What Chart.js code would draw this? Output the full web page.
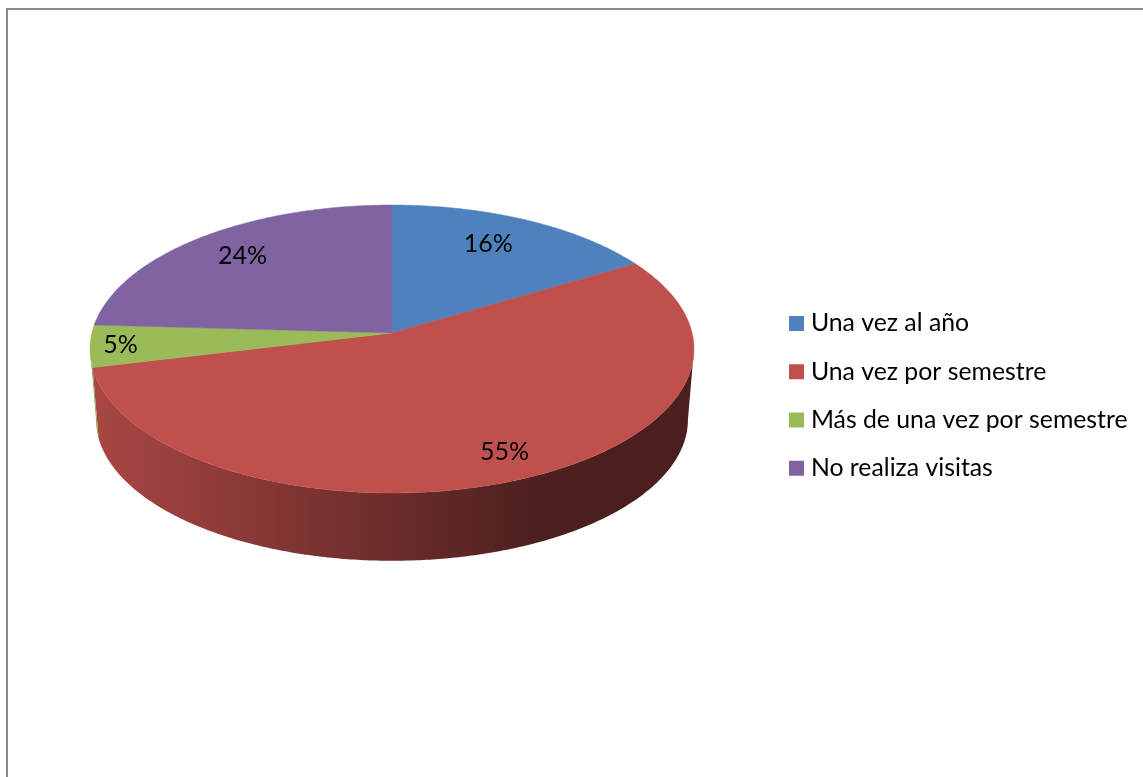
<!DOCTYPE html>
<html lang="es">
<head>
<meta charset="utf-8">
<title>Frecuencia de visitas</title>
<style>
html,body{margin:0;padding:0;background:#fff;overflow:hidden}
canvas{display:block}
</style>
<script src="https://cdn.jsdelivr.net/npm/chart.js@4"></script>
</head>
<body>
<canvas id="c" width="1143" height="777"></canvas>
<script>
const categories = ['Una vez al año', 'Una vez por semestre', 'Más de una vez por semestre', 'No realiza visitas'];
const values = [16.4, 54.8, 4.7, 24.1];
const colors = ['#4f81bd', '#c0504d', '#9bbb59', '#8064a2'];
const labelRadius = [0.755, 0.84, 0.90, 0.785];
const labelAlong = [0.46, 0.491, 0.5, 0.51];

const FONT = 'Lato, Carlito, Calibri, sans-serif';
const view = { cx: 392, cy: 333, A: 300.1, B: 142.2, k: 1 / 9, bottomScale: 0.98, bottomCy: 404 };
const wallFrom = Math.acos(-view.k), wallTo = 2 * Math.PI - wallFrom;

// Perspective projection of a point of the pie's disc; theta runs clockwise from 12 o'clock.
function project(theta, r) {
  const u = r * Math.sin(theta), v = r * Math.cos(theta), w = 1 + view.k * v;
  return { x: view.cx + view.A * u / w, y: view.cy - view.B * v / w };
}
function toBottom(p) {
  return { x: view.cx + view.bottomScale * (p.x - view.cx), y: view.bottomCy + view.bottomScale * (p.y - view.cy) };
}
function shade(hex, f) {
  const n = parseInt(hex.slice(1), 16);
  return `rgb(${Math.round((n >> 16) * f)},${Math.round(((n >> 8) & 255) * f)},${Math.round((n & 255) * f)})`;
}
function arcPoints(a, b) {
  const n = Math.max(2, Math.ceil((b - a) / 0.01)), pts = [];
  for (let i = 0; i <= n; i++) pts.push(project(a + (b - a) * i / n, 1));
  return pts;
}

const pie3d = {
  id: 'pie3d',
  beforeDraw(chart) {
    const ctx = chart.ctx;
    ctx.save();
    ctx.fillStyle = '#ffffff';
    ctx.fillRect(0, 0, chart.width, chart.height);
    ctx.fillStyle = '#8a8a8a';
    ctx.fillRect(6, 8, chart.width - 6, 2);
    ctx.fillRect(6, 8, 2, chart.height - 8);
    ctx.restore();
  },
  afterLayout(chart) {
    const lg = chart.legend;
    const pad = lg.options.labels.padding;
    lg.left = 794.5 - pad;
    lg.right = chart.width;
    lg.top = 311 - pad;
    lg.bottom = chart.height;
  },
  beforeDatasetDraw(chart, args) {
    const ctx = chart.ctx, arcs = args.meta.data;
    const ranges = arcs.map(el => {
      const p = el.getProps(['startAngle', 'endAngle'], true);
      return [p.startAngle + Math.PI / 2, p.endAngle + Math.PI / 2];
    });
    ctx.save();
    // outer wall
    ranges.forEach(([s, e], i) => {
      const a = Math.max(s, wallFrom), b = Math.min(e, wallTo);
      if (b <= a) return;
      const top = arcPoints(a, b), bot = top.map(toBottom).reverse();
      const g = ctx.createLinearGradient(97, 0, 550, 0);
      g.addColorStop(0, shade(colors[i], 0.875));
      g.addColorStop(1, shade(colors[i], 0.385));
      ctx.beginPath();
      top.concat(bot).forEach((p, j) => j ? ctx.lineTo(p.x, p.y) : ctx.moveTo(p.x, p.y));
      ctx.closePath();
      ctx.fillStyle = g;
      ctx.fill();
    });
    // top surface
    ranges.forEach(([s, e], i) => {
      ctx.beginPath();
      ctx.moveTo(view.cx, view.cy);
      arcPoints(s, e).forEach(p => ctx.lineTo(p.x, p.y));
      ctx.closePath();
      ctx.fillStyle = colors[i];
      ctx.strokeStyle = colors[i];
      ctx.lineWidth = 0.5;
      ctx.fill();
      ctx.stroke();
    });
    // value labels
    ctx.fillStyle = '#000000';
    ctx.font = '25px ' + FONT;
    ctx.textAlign = 'center';
    ctx.textBaseline = 'middle';
    ranges.forEach(([s, e], i) => {
      const p = project(s + (e - s) * labelAlong[i], labelRadius[i]);
      ctx.fillText(Math.round(values[i]) + '%', p.x, p.y);
    });
    ctx.restore();
    return false;
  }
};

new Chart(document.getElementById('c'), {
  type: 'pie',
  data: {
    labels: categories,
    datasets: [{ data: values, backgroundColor: colors, borderWidth: 0 }]
  },
  options: {
    responsive: false,
    animation: false,
    plugins: {
      tooltip: { enabled: false },
      title: { display: false },
      legend: {
        display: true,
        position: 'right',
        align: 'start',
        labels: {
          font: { family: FONT, size: 24.8 },
          color: '#000000',
          boxWidth: 4,
          boxHeight: 4,
          padding: 23.5,
          generateLabels(chart) {
            return chart.data.labels.map((text, i) => ({
              text,
              fillStyle: colors[i],
              strokeStyle: colors[i],
              lineWidth: 11,
              hidden: false,
              index: i
            }));
          }
        }
      }
    }
  },
  plugins: [pie3d]
});
</script>
</body>
</html>
